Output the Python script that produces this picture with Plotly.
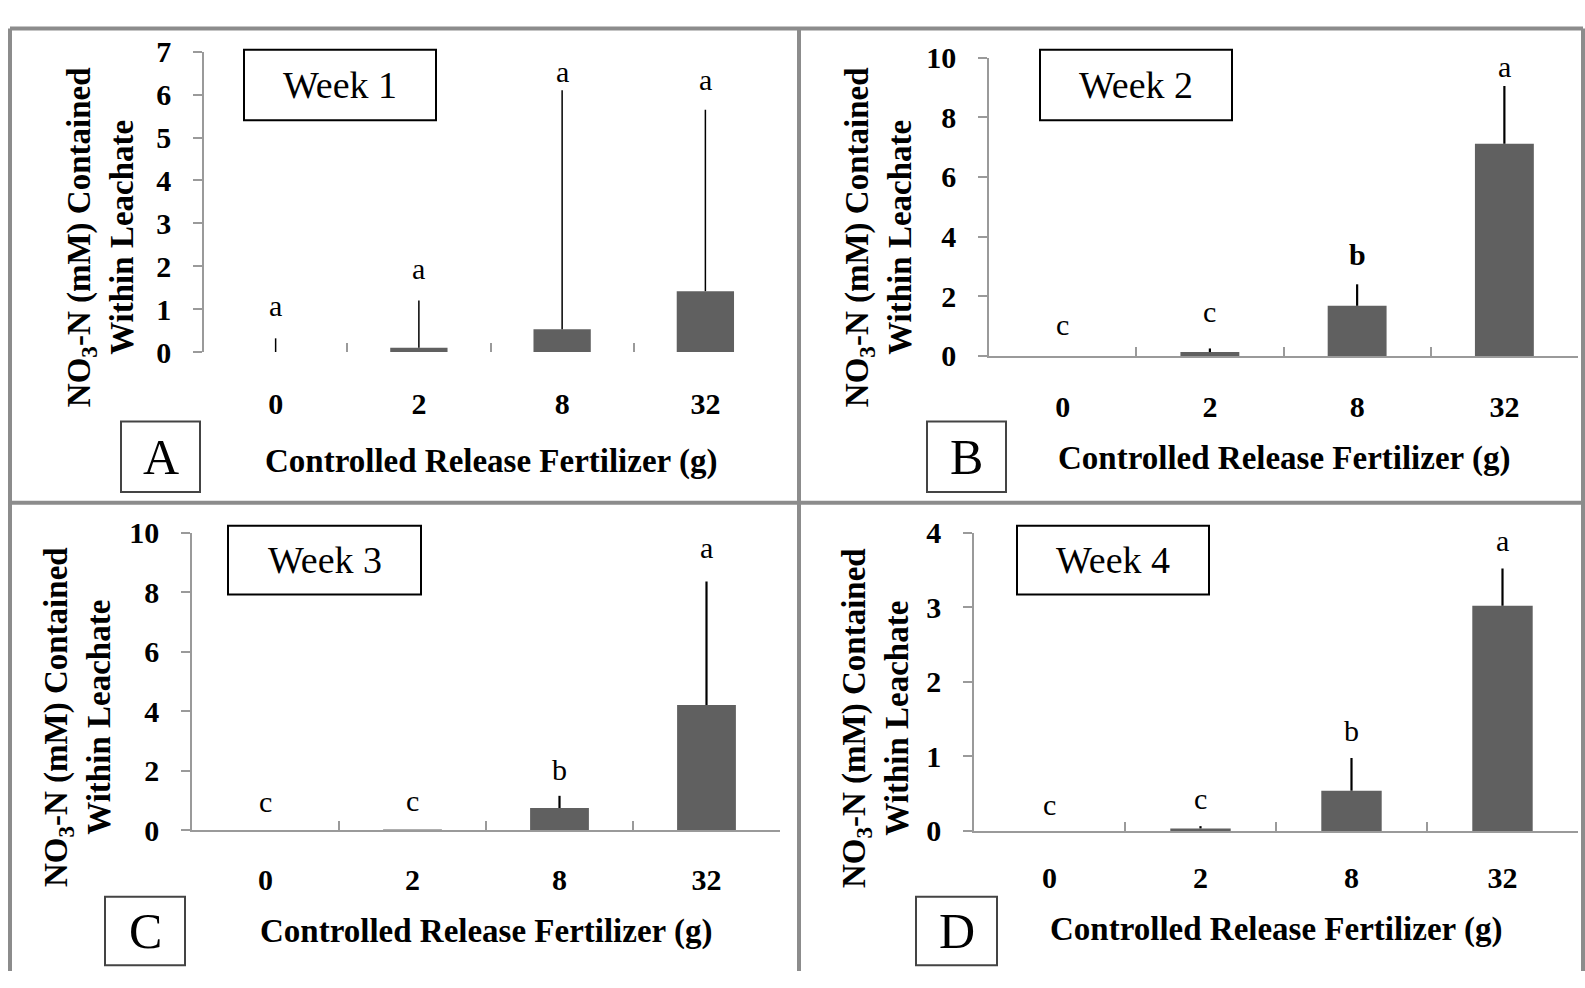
import plotly.graph_objects as go

W, H = 1585, 988

# ---------------- data ----------------
categories = ["0", "2", "8", "32"]

week1_mean = [0.0, 0.10, 0.53, 1.42]
week1_err = [0.32, 1.10, 5.57, 4.23]
week1_letters = ["a", "a", "a", "a"]

week2_mean = [0.0, 0.13, 1.68, 7.11]
week2_err = [0.0, 0.12, 0.72, 1.94]
week2_letters = ["c", "c", "<b>b</b>", "a"]

week3_mean = [0.0, 0.01, 0.74, 4.20]
week3_err = [0.0, 0.0, 0.41, 4.16]
week3_letters = ["c", "c", "b", "a"]

week4_mean = [0.0, 0.035, 0.54, 3.02]
week4_err = [0.0, 0.03, 0.44, 0.50]
week4_letters = ["c", "c", "b", "a"]

week_titles = ["Week 1", "Week 2", "Week 3", "Week 4"]
panel_letters = ["A", "B", "C", "D"]
y_max = [7, 10, 10, 4]
y_dtick = [1, 2, 2, 1]

y_title = "NO<sub>3</sub>-N (mM) Contained<br>Within Leachate"
x_title = "Controlled Release Fertilizer (g)"

means = [week1_mean, week2_mean, week3_mean, week4_mean]
errs = [week1_err, week2_err, week3_err, week4_err]
letters = [week1_letters, week2_letters, week3_letters, week4_letters]

# ---------------- layout geometry ----------------
# heights (in axis units) where the significance letters sit
letter_pos = [[1.09, 1.95, 6.55, 6.36],
              [1.06, 1.49, 3.40, 9.70],
              [0.95, 1.00, 2.03, 9.50],
              [0.36, 0.44, 1.35, 3.90]]
plot_px = [(204, 777, 36, 347), (989, 1578, 42, 351),
           (192, 780, 534, 842), (974, 1578, 534, 843)]
week_box_px = [(244, 436, 34, 107), (1040, 1232, 34, 107),
               (228, 421, 527, 598), (1017, 1209, 527, 598)]
letter_box_px = [(121, 200, 419, 492), (927, 1006, 419, 492),
                 (105, 185, 911, 982), (916, 997, 911, 982)]
ytitle_px = [(100, 228), (878, 228), (77, 725), (875, 726)]
xtitle_y_px = [460, 457, 947, 945]
xtick_standoff = [31, 23, 22, 19]
show_xline = [False, True, True, True]

SERIF = "Liberation Serif"
GREY = "#9a9a9a"
BAR = "#606060"


def px(x):
    return x / W


def py(y):
    return 1 - y / H


fig = go.Figure()
layout = dict(
    width=W, height=H, margin=dict(l=0, r=0, t=0, b=0),
    paper_bgcolor="white", plot_bgcolor="white", showlegend=False,
    font=dict(family=SERIF, color="black"),
)
annotations = []
shapes = []

for i in range(4):
    sfx = "" if i == 0 else str(i + 1)
    xa, ya = "x" + sfx, "y" + sfx
    fig.add_trace(go.Bar(
        x=categories, y=means[i], xaxis=xa, yaxis=ya, width=0.4,
        marker=dict(color=BAR, line=dict(width=0)),
        error_y=dict(type="data", symmetric=False, array=errs[i],
                     arrayminus=[0] * 4, color="black",
                     thickness=1.5 if i == 0 else 2.2, width=0),
    ))
    x0, x1, y0, y1 = plot_px[i]
    layout["xaxis" + sfx] = dict(
        domain=[px(x0), px(x1)], anchor=ya, type="category",
        range=[-0.5, 3.5], tickson="boundaries", ticks="inside", ticklen=9,
        tickcolor=GREY, tickwidth=1.5, showline=show_xline[i], linecolor=GREY,
        linewidth=1.5, showgrid=False, zeroline=False,
        tickfont=dict(family=SERIF, size=30, weight="bold"),
        ticklabelstandoff=xtick_standoff[i],
    )
    layout["yaxis" + sfx] = dict(
        domain=[py(y1), py(y0)], anchor=xa, range=[0, y_max[i]],
        dtick=y_dtick[i], tick0=0, ticks="outside", ticklen=9,
        tickcolor=GREY, tickwidth=1.5, showline=True, linecolor=GREY,
        linewidth=1.5, showgrid=False, zeroline=False,
        tickfont=dict(family=SERIF, size=30, weight="bold"),
        ticklabelstandoff=16,
    )
    # significance letters (x given as category index)
    for j, l in enumerate(letters[i]):
        annotations.append(dict(
            x=j, y=letter_pos[i][j], xref=xa, yref=ya, text=l,
            showarrow=False, yanchor="middle",
            font=dict(family=SERIF, size=30)))
    # week box
    bx0, bx1, by0, by1 = week_box_px[i]
    shapes.append(dict(type="rect", xref="paper", yref="paper",
                       x0=px(bx0), x1=px(bx1), y0=py(by1), y1=py(by0),
                       line=dict(color="black", width=2)))
    annotations.append(dict(
        x=px((bx0 + bx1) / 2), y=py((by0 + by1) / 2), xref="paper",
        yref="paper", text=week_titles[i], showarrow=False,
        xanchor="center", yanchor="middle", font=dict(family=SERIF, size=38)))
    # panel letter box
    lx0, lx1, ly0, ly1 = letter_box_px[i]
    shapes.append(dict(type="rect", xref="paper", yref="paper",
                       x0=px(lx0), x1=px(lx1), y0=py(ly1), y1=py(ly0),
                       line=dict(color="#444444", width=2)))
    annotations.append(dict(
        x=px((lx0 + lx1) / 2), y=py((ly0 + ly1) / 2), xref="paper",
        yref="paper", text=panel_letters[i], showarrow=False,
        xanchor="center", yanchor="middle", font=dict(family=SERIF, size=50)))
    # axis titles
    tx, ty = ytitle_px[i]
    annotations.append(dict(
        x=px(tx), y=py(ty), xref="paper", yref="paper", text=y_title,
        showarrow=False, textangle=-90, xanchor="center", yanchor="middle",
        font=dict(family=SERIF, size=33, weight="bold")))
    annotations.append(dict(
        x=px((x0 + x1) / 2), y=py(xtitle_y_px[i]), xref="paper",
        yref="paper", text=x_title, showarrow=False, xanchor="center",
        yanchor="middle", font=dict(family=SERIF, size=33, weight="bold")))

# grey frame lines separating the panels
frame = dict(color="#8c8c8c", width=4)
shapes += [
    dict(type="line", xref="paper", yref="paper", x0=px(10), x1=px(1583), y0=py(12), y1=py(12), line=frame),
    dict(type="line", xref="paper", yref="paper", x0=px(10), x1=px(1583), y0=py(503), y1=py(503), line=frame),
    dict(type="line", xref="paper", yref="paper", x0=px(10), x1=px(10), y0=py(12), y1=0, line=frame),
    dict(type="line", xref="paper", yref="paper", x0=px(799), x1=px(799), y0=py(12), y1=0, line=frame),
    dict(type="line", xref="paper", yref="paper", x0=px(1583), x1=px(1583), y0=py(12), y1=0, line=frame),
]

layout["annotations"] = annotations
layout["shapes"] = shapes
fig.update_layout(**layout)
fig.write_html(
    "out.html",
    config={"displayModeBar": False},
    post_script="document.body.style.margin='0';document.body.style.overflow='hidden';",
)
